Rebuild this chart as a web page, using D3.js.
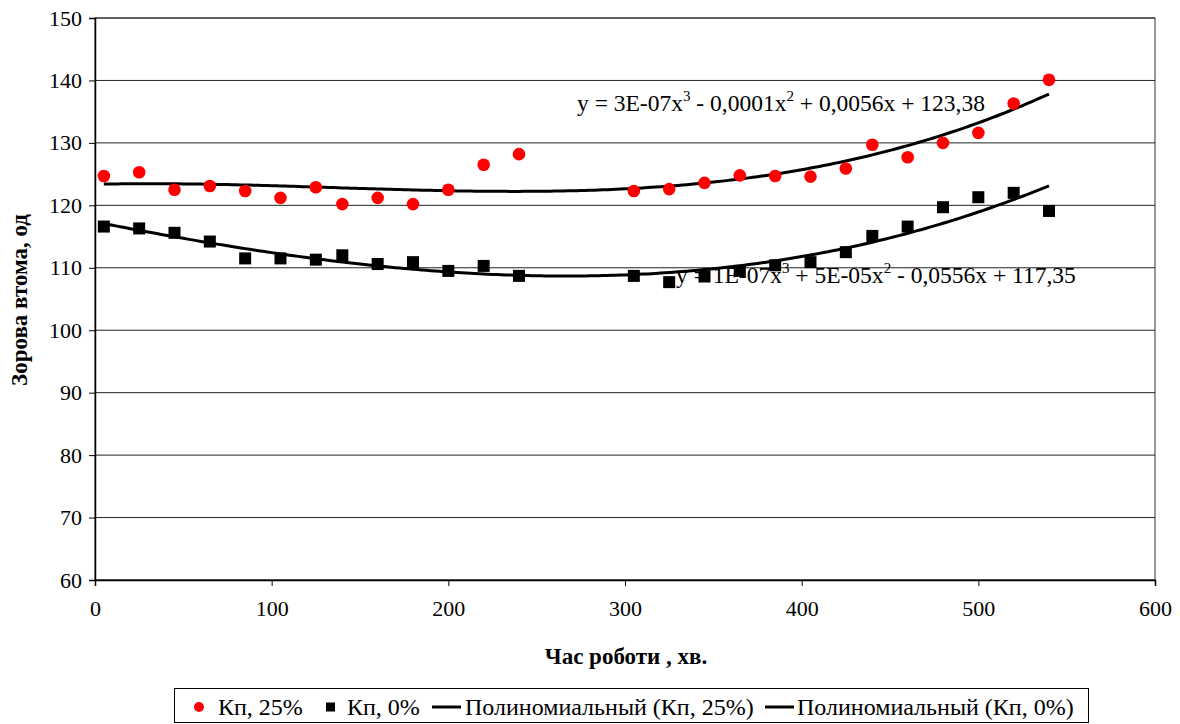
<!DOCTYPE html>
<html>
<head>
<meta charset="utf-8">
<script src="https://cdn.jsdelivr.net/npm/d3@7"></script>
<style>
  html, body { margin: 0; padding: 0; background: #fff; }
  svg, svg text { font-family: "Liberation Serif", "Times New Roman", serif; }
</style>
</head>
<body>
<svg id="chart" width="1180" height="724"></svg>
<script>
// Working time, minutes
const minutes = [5, 25, 45, 65, 85, 105, 125, 140, 160, 180, 200, 220, 240,
                 305, 325, 345, 365, 385, 405, 425, 440, 460, 480, 500, 520, 540];
// Visual fatigue, Кп = 25%
const kp25 = [124.7, 125.3, 122.5, 123.1, 122.3, 121.2, 122.9, 120.2, 121.2, 120.2, 122.5, 126.5, 128.2,
              122.3, 122.6, 123.6, 124.8, 124.7, 124.6, 125.9, 129.7, 127.7, 130.0, 131.6, 136.3, 140.1];
// Visual fatigue, Кп = 0%
const kp0 = [116.6, 116.3, 115.6, 114.2, 111.5, 111.5, 111.3, 112.0, 110.6, 110.9, 109.5, 110.3, 108.7,
             108.7, 107.7, 108.6, 109.5, 110.4, 110.9, 112.5, 115.1, 116.6, 119.7, 121.3, 122.0, 119.1];

const xTicks = [0, 100, 200, 300, 400, 500, 600];
const yTicks = [60, 70, 80, 90, 100, 110, 120, 130, 140, 150];

const eq25 = ["y = 3E-07x", "3", " - 0,0001x", "2", " + 0,0056x + 123,38"];
const eq0  = ["y = 1E-07x", "3", " + 5E-05x", "2", " - 0,0556x + 117,35"];

const legendLabels = ["Кп, 25%", "Кп, 0%", "Полиномиальный (Кп, 25%)", "Полиномиальный (Кп, 0%)"];

const FONT = "Liberation Serif";

// Least-squares cubic fit (normal equations, Gaussian elimination)
function cubicFit(xs, ys) {
  const n = 4;
  const A = Array.from({length: n}, () => new Array(n + 1).fill(0));
  xs.forEach((xv, k) => {
    const p = [1, xv, xv * xv, xv * xv * xv];
    for (let i = 0; i < n; i++) {
      for (let j = 0; j < n; j++) A[i][j] += p[i] * p[j];
      A[i][n] += p[i] * ys[k];
    }
  });
  for (let c = 0; c < n; c++) {
    let piv = c;
    for (let r = c + 1; r < n; r++) if (Math.abs(A[r][c]) > Math.abs(A[piv][c])) piv = r;
    [A[c], A[piv]] = [A[piv], A[c]];
    for (let r = 0; r < n; r++) {
      if (r === c) continue;
      const f = A[r][c] / A[c][c];
      for (let k = c; k <= n; k++) A[r][k] -= f * A[c][k];
    }
  }
  const b = A.map((row, i) => row[n] / row[i]);
  return v => b[0] + b[1] * v + b[2] * v * v + b[3] * v * v * v;
}

const svg = d3.select("#chart").attr("font-family", FONT);
const plotL = 95, plotR = 1155, plotT = 18, plotB = 580;

const x = d3.scaleLinear().domain([0, 600]).range([plotL, plotR]);
const y = d3.scaleLinear().domain([60, 150]).range([plotB, plotT]);

// horizontal gridlines
svg.append("g").selectAll("line").data(yTicks).join("line")
  .attr("x1", plotL).attr("x2", plotR)
  .attr("y1", d => y(d)).attr("y2", d => y(d))
  .attr("stroke", "#222").attr("stroke-width", 1);

// plot frame
svg.append("rect").attr("x", plotL).attr("y", plotT)
  .attr("width", plotR - plotL).attr("height", plotB - plotT)
  .attr("fill", "none").attr("stroke", "#333").attr("stroke-width", 1);

// axes
const yAxis = svg.append("g").attr("transform", `translate(${plotL},0)`)
  .call(d3.axisLeft(y).tickValues(yTicks).tickSize(6).tickPadding(7).tickFormat(d3.format("d")));
const xAxis = svg.append("g").attr("transform", `translate(0,${plotB})`)
  .call(d3.axisBottom(x).tickValues(xTicks).tickSize(6).tickPadding(14).tickFormat(d3.format("d")));
[yAxis, xAxis].forEach(g => {
  g.attr("font-family", FONT).attr("font-size", 22);
  g.select(".domain").attr("stroke", "#000").attr("stroke-width", 1.5);
  g.selectAll(".tick line").attr("stroke", "#000");
  g.selectAll(".tick text").attr("fill", "#000");
});

// axis titles
svg.append("text").attr("x", 626).attr("y", 664)
  .attr("text-anchor", "middle").attr("font-weight", "bold").attr("font-size", 23)
  .text("Час роботи , хв.");
svg.append("text").attr("transform", `translate(27,300) rotate(-90)`)
  .attr("text-anchor", "middle").attr("font-weight", "bold").attr("font-size", 23)
  .text("Зорова втома, од");

// polynomial trend lines
const f25 = cubicFit(minutes, kp25);
const f0 = cubicFit(minutes, kp0);
const xs = d3.range(5, 540.5, 2.5);
const line = d3.line().x(d => x(d[0])).y(d => y(d[1]));

// equation labels
function eqLabel(parts, tx, ty) {
  const t = svg.append("text").attr("x", tx).attr("y", ty).attr("font-size", 23.5).attr("fill", "#000");
  parts.forEach((p, i) => {
    const sup = i % 2 === 1;
    t.append("tspan").attr("dy", sup ? -10 : (i > 0 ? 10 : 0))
      .attr("font-size", sup ? 15 : 23.5).text(p);
  });
}
eqLabel(eq25, 577, 111);
eqLabel(eq0, 676, 283);

svg.append("path").datum(xs.map(v => [v, f25(v)])).attr("d", line)
  .attr("fill", "none").attr("stroke", "#000").attr("stroke-width", 3);
svg.append("path").datum(xs.map(v => [v, f0(v)])).attr("d", line)
  .attr("fill", "none").attr("stroke", "#000").attr("stroke-width", 3);

// data markers
svg.append("g").selectAll("circle").data(minutes).join("circle")
  .attr("cx", d => x(d)).attr("cy", (d, i) => y(kp25[i])).attr("r", 6.3)
  .attr("fill", "#ff0000");
const s = 12;
svg.append("g").selectAll("rect").data(minutes).join("rect")
  .attr("x", d => x(d) - s / 2).attr("y", (d, i) => y(kp0[i]) - s / 2)
  .attr("width", s).attr("height", s).attr("fill", "#000");

// legend
const lg = svg.append("g");
lg.append("rect").attr("x", 174.5).attr("y", 688.5).attr("width", 914).attr("height", 34)
  .attr("fill", "#fff").attr("stroke", "#000").attr("stroke-width", 1);
const ly = 707;
lg.append("circle").attr("cx", 199).attr("cy", ly).attr("r", 5).attr("fill", "#ff0000");
lg.append("rect").attr("x", 326).attr("y", ly - 4.5).attr("width", 9).attr("height", 9).attr("fill", "#000");
lg.append("line").attr("x1", 432).attr("x2", 461).attr("y1", ly).attr("y2", ly).attr("stroke", "#000").attr("stroke-width", 3);
lg.append("line").attr("x1", 765).attr("x2", 794).attr("y1", ly).attr("y2", ly).attr("stroke", "#000").attr("stroke-width", 3);
const lx = [218, 347, 465, 797];
lg.selectAll("text.lbl").data(legendLabels).join("text").attr("class", "lbl")
  .attr("x", (d, i) => lx[i]).attr("y", ly + 8).attr("font-size", 24).text(d => d);
</script>
</body>
</html>
